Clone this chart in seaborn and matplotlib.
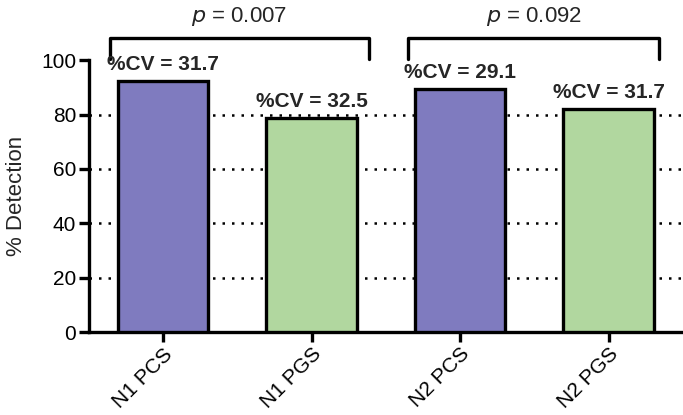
import matplotlib
matplotlib.use("Agg")
import matplotlib.pyplot as plt
import seaborn as sns
import pandas as pd

categories = ["N1 PCS", "N1 PGS", "N2 PCS", "N2 PGS"]
detection = [92.3, 78.7, 89.3, 82.0]
cv_labels = ["%CV = 31.7", "%CV = 32.5", "%CV = 29.1", "%CV = 31.7"]
p_labels = ["0.007", "0.092"]
yticks = [0, 20, 40, 60, 80, 100]

sns.set_style("white")
plt.rcParams['font.family'] = ['Liberation Sans', 'DejaVu Sans']

df = pd.DataFrame({"cat": categories, "val": detection})
colors = ["#7f7bbf", "#b1d79f", "#7f7bbf", "#b1d79f"]

fig = plt.figure(figsize=(6.83, 4.15), dpi=100)
ax = fig.add_axes([0.130, 0.2, 0.870, 0.655])
sns.barplot(data=df, x="cat", y="val", hue="cat", palette=colors, legend=False,
            width=0.61, edgecolor="black", linewidth=2.4, ax=ax, saturation=1, zorder=3)

ax.set_ylim(0, 100)
ax.set_xlim(-0.5, 3.5)
ax.set_yticks(yticks)
for g in yticks[1:-1]:
    ax.axhline(g, color="black", linestyle=(0, (1, 2.8)), linewidth=1.8, zorder=1)

for s in ["top", "right"]:
    ax.spines[s].set_visible(False)
for s in ["left", "bottom"]:
    ax.spines[s].set_linewidth(2.4)
    ax.spines[s].set_color("black")
ax.tick_params(axis="both", direction="out", length=7, width=2.4, colors="black",
               labelsize=15, left=True, bottom=True, pad=2)
ax.set_xlabel("")
ax.set_ylabel("% Detection", fontsize=16, labelpad=10)
plt.setp(ax.get_xticklabels(), rotation=45, ha="right", rotation_mode="anchor",
         fontsize=15)

for i, (v, lab) in enumerate(zip(detection, cv_labels)):
    ax.annotate(lab, (i, v), xytext=(0, 5), textcoords="offset points",
                ha="center", va="bottom", fontsize=15, fontweight="bold",
                annotation_clip=False)

brackets = [(-0.36, 1.385), (1.65, 3.34)]
for (x0, x1), p in zip(brackets, p_labels):
    ax.plot([x0, x0, x1, x1], [100.5, 108, 108, 100.5], color="black",
            linewidth=2.4, clip_on=False)
    ax.text((x0 + x1) / 2, 112, f"$p$ = {p}", ha="center", va="bottom",
            fontsize=16)

fig.savefig("out.png", dpi=100)
